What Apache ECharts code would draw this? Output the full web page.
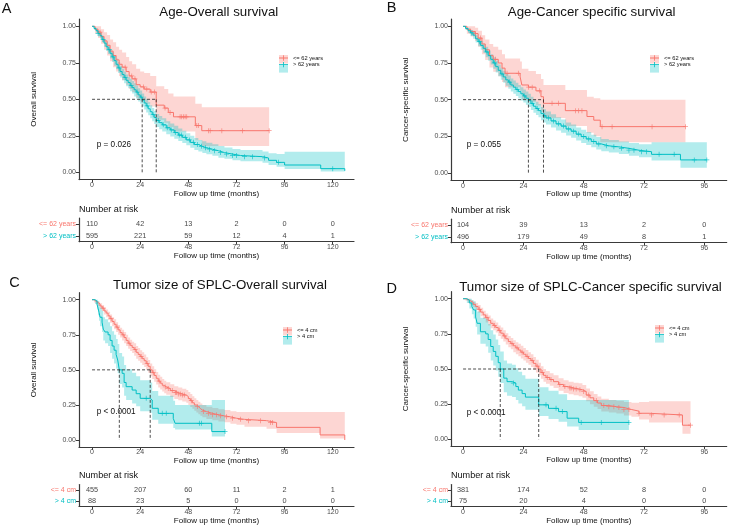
<!DOCTYPE html>
<html>
<head>
<meta charset="utf-8">
<title>SPLC survival curves</title>
<script src="https://cdn.jsdelivr.net/npm/echarts@6/dist/echarts.min.js"></script>
<style>
  html, body { margin: 0; padding: 0; background: #fff; }
  #chart { width: 729px; height: 528px; }
</style>
</head>
<body>
<div id="chart"></div>
<script>
// Kaplan-Meier estimates: [months, survival, lower CI, upper CI]
const ageOsYoung = [[0,1,1,1],[1.5,0.98,0.95,1],[3,0.96,0.92,1],[4.5,0.93,0.88,0.98],[6,0.9,0.84,0.96],[7.5,0.87,0.8,0.94],[9,0.83,0.76,0.91],[10.5,0.8,0.72,0.89],[12,0.77,0.69,0.86],[13.5,0.74,0.66,0.84],[15,0.72,0.63,0.82],[17,0.69,0.6,0.79],[18.5,0.66,0.57,0.76],[20,0.64,0.55,0.74],[22,0.6,0.51,0.71],[24,0.585,0.49,0.69],[26,0.57,0.47,0.68],[29,0.55,0.45,0.66],[32,0.46,0.36,0.59],[36,0.44,0.34,0.57],[38,0.41,0.31,0.54],[40.6,0.38,0.28,0.52],[51.5,0.32,0.22,0.47],[54.7,0.285,0.18,0.445],[88.3,0.285,0.18,0.445]];
const ageOsOld = [[0,1,1,1],[1,0.985,0.975,0.995],[2,0.97,0.955,0.985],[3,0.95,0.93,0.97],[4,0.935,0.915,0.955],[5,0.91,0.89,0.935],[6,0.885,0.86,0.91],[7,0.86,0.83,0.89],[8,0.84,0.81,0.87],[9,0.815,0.78,0.845],[10,0.79,0.755,0.825],[11,0.765,0.73,0.8],[12,0.74,0.705,0.78],[13,0.715,0.68,0.755],[14,0.69,0.65,0.73],[15,0.67,0.63,0.71],[16,0.65,0.61,0.69],[17,0.63,0.59,0.67],[18,0.615,0.575,0.655],[19,0.595,0.555,0.64],[20,0.58,0.54,0.625],[21,0.565,0.52,0.61],[22,0.55,0.505,0.595],[23,0.53,0.485,0.575],[24,0.515,0.47,0.56],[25,0.495,0.45,0.54],[26,0.475,0.43,0.52],[27,0.455,0.41,0.5],[28,0.435,0.39,0.48],[29,0.415,0.37,0.46],[30,0.395,0.35,0.44],[31,0.375,0.33,0.42],[32,0.355,0.31,0.4],[33.5,0.34,0.295,0.385],[35,0.325,0.28,0.37],[37,0.305,0.26,0.35],[39,0.29,0.245,0.335],[41,0.272,0.23,0.318],[43,0.255,0.215,0.3],[45,0.24,0.2,0.285],[47,0.222,0.185,0.268],[49,0.205,0.168,0.25],[51,0.19,0.153,0.235],[53,0.178,0.142,0.222],[55,0.168,0.133,0.212],[57,0.158,0.123,0.202],[60,0.148,0.113,0.192],[63,0.135,0.1,0.18],[66,0.125,0.092,0.17],[70,0.115,0.082,0.16],[74,0.107,0.075,0.152],[85,0.098,0.066,0.143],[88,0.082,0.05,0.13],[92,0.068,0.038,0.125],[96,0.05,0.022,0.14],[114,0.025,0.005,0.14],[126,0.01,0,0.14]];
const ageCssYoung = [[0,1,1,1],[1.5,0.98,0.95,1],[3,0.965,0.93,1],[4.8,0.95,0.9,0.99],[6,0.92,0.86,0.97],[7.5,0.88,0.81,0.94],[8.8,0.84,0.77,0.91],[10.5,0.8,0.72,0.88],[12,0.775,0.69,0.86],[14,0.75,0.66,0.84],[15.5,0.715,0.62,0.81],[16.7,0.68,0.585,0.78],[22.7,0.655,0.56,0.76],[23.4,0.6,0.5,0.71],[26,0.585,0.485,0.695],[29,0.56,0.46,0.675],[31,0.52,0.42,0.64],[32,0.475,0.375,0.6],[40.7,0.425,0.32,0.565],[49.3,0.385,0.275,0.52],[52,0.36,0.25,0.51],[54.6,0.316,0.21,0.5],[88.5,0.316,0.21,0.5]];
const ageCssOld = [[0,1,1,1],[1,0.985,0.975,0.995],[2,0.97,0.955,0.985],[3,0.955,0.935,0.975],[4,0.94,0.915,0.96],[5,0.915,0.89,0.94],[6,0.895,0.865,0.92],[7,0.87,0.84,0.9],[8,0.85,0.82,0.88],[9,0.825,0.79,0.86],[10,0.8,0.765,0.835],[11,0.775,0.74,0.81],[12,0.75,0.71,0.79],[13,0.725,0.685,0.765],[14,0.7,0.66,0.74],[15,0.675,0.635,0.715],[16,0.655,0.615,0.695],[17,0.635,0.595,0.68],[18,0.62,0.575,0.665],[19,0.6,0.555,0.645],[20,0.585,0.54,0.63],[21,0.57,0.525,0.615],[22,0.555,0.51,0.6],[23,0.54,0.495,0.585],[24,0.525,0.48,0.57],[25,0.51,0.465,0.555],[26,0.495,0.45,0.54],[27,0.475,0.43,0.52],[28,0.455,0.41,0.5],[29,0.44,0.395,0.485],[30,0.425,0.38,0.47],[31,0.405,0.36,0.45],[32,0.39,0.345,0.435],[33,0.375,0.33,0.42],[35,0.355,0.31,0.4],[37,0.335,0.29,0.38],[39,0.32,0.275,0.365],[41,0.3,0.255,0.345],[43,0.285,0.24,0.33],[45,0.265,0.222,0.31],[47,0.248,0.205,0.295],[49,0.232,0.19,0.28],[51,0.215,0.175,0.26],[53,0.198,0.16,0.245],[55,0.185,0.148,0.232],[58,0.178,0.14,0.225],[62,0.168,0.13,0.215],[66,0.155,0.118,0.205],[70,0.145,0.108,0.195],[75,0.127,0.085,0.21],[86.5,0.089,0.035,0.21],[97,0.089,0.035,0.21]];
const sizeOsSmall = [[0,1,1,1],[1,0.99,0.98,1],[2,0.98,0.965,0.99],[3,0.97,0.955,0.985],[4,0.955,0.935,0.975],[5,0.94,0.92,0.96],[6,0.92,0.895,0.945],[7,0.905,0.875,0.93],[8,0.885,0.855,0.915],[9,0.865,0.835,0.895],[10,0.845,0.81,0.875],[11,0.825,0.79,0.86],[12,0.805,0.77,0.84],[13,0.785,0.75,0.82],[14,0.765,0.73,0.8],[15,0.75,0.71,0.785],[16,0.73,0.69,0.77],[17,0.71,0.67,0.75],[18,0.69,0.65,0.73],[19,0.675,0.635,0.715],[20,0.66,0.62,0.7],[21,0.645,0.6,0.69],[22,0.625,0.58,0.67],[23,0.61,0.565,0.655],[24,0.595,0.55,0.64],[25,0.58,0.535,0.625],[26,0.565,0.52,0.61],[27,0.545,0.5,0.59],[28,0.525,0.48,0.57],[29,0.5,0.455,0.545],[30,0.48,0.435,0.525],[31,0.46,0.415,0.505],[32,0.44,0.395,0.485],[33,0.42,0.375,0.465],[34,0.405,0.36,0.45],[35,0.39,0.345,0.435],[36,0.378,0.333,0.423],[37,0.367,0.322,0.412],[39,0.352,0.307,0.397],[41,0.338,0.293,0.383],[43,0.328,0.283,0.374],[45,0.32,0.275,0.366],[47,0.31,0.265,0.356],[48,0.295,0.25,0.342],[49,0.28,0.236,0.327],[50,0.265,0.222,0.312],[51,0.25,0.208,0.297],[52,0.238,0.196,0.285],[53,0.225,0.184,0.272],[54,0.213,0.172,0.26],[55,0.203,0.162,0.25],[57,0.19,0.15,0.237],[60,0.18,0.14,0.228],[63,0.172,0.132,0.22],[66,0.165,0.126,0.213],[69,0.155,0.116,0.205],[72,0.147,0.108,0.2],[76,0.138,0.095,0.2],[87,0.124,0.08,0.2],[92,0.09,0.05,0.2],[113.7,0.036,0.01,0.2],[126,0,0,0.2]];
const sizeOsLarge = [[0,1,1,1],[1.5,0.99,0.97,1],[2.5,0.966,0.93,1],[3,0.94,0.89,0.99],[3.5,0.91,0.85,0.97],[4,0.875,0.81,0.945],[5,0.84,0.77,0.92],[5.6,0.79,0.71,0.875],[6.5,0.77,0.69,0.86],[8,0.75,0.67,0.84],[9,0.71,0.62,0.81],[10,0.67,0.58,0.775],[11,0.64,0.545,0.75],[12,0.61,0.51,0.72],[12.8,0.57,0.475,0.685],[13.6,0.5,0.4,0.62],[15,0.475,0.375,0.595],[16,0.41,0.315,0.535],[17,0.38,0.285,0.505],[20,0.356,0.26,0.48],[22,0.33,0.24,0.455],[24,0.297,0.205,0.425],[29,0.285,0.195,0.41],[30,0.226,0.145,0.35],[33,0.19,0.115,0.315],[40.5,0.154,0.085,0.28],[41.4,0.119,0.075,0.25],[59.7,0.06,0.024,0.285],[66.3,0.06,0.024,0.285]];
const sizeCssSmall = [[0,1,1,1],[1,0.995,0.985,1],[2,0.985,0.97,1],[3,0.975,0.955,0.99],[4,0.96,0.94,0.98],[5,0.945,0.92,0.97],[6,0.925,0.9,0.955],[7,0.905,0.875,0.935],[8,0.885,0.855,0.915],[9,0.865,0.83,0.895],[10,0.845,0.81,0.88],[11,0.825,0.79,0.86],[12,0.81,0.775,0.845],[13,0.795,0.76,0.83],[14,0.775,0.735,0.81],[15,0.755,0.715,0.795],[16,0.735,0.695,0.775],[17,0.715,0.675,0.755],[18,0.695,0.655,0.735],[19,0.68,0.64,0.72],[20,0.665,0.62,0.705],[21,0.65,0.605,0.69],[22,0.635,0.59,0.68],[23,0.62,0.575,0.665],[24,0.605,0.56,0.65],[25,0.59,0.545,0.635],[26,0.575,0.53,0.62],[27,0.56,0.515,0.605],[28,0.54,0.495,0.585],[29,0.52,0.475,0.565],[30.1,0.5,0.455,0.545],[31,0.475,0.43,0.52],[32,0.455,0.41,0.5],[33,0.44,0.395,0.485],[34.5,0.425,0.38,0.47],[36,0.41,0.365,0.455],[38,0.39,0.345,0.435],[40,0.375,0.33,0.42],[42,0.365,0.32,0.41],[44,0.358,0.313,0.403],[46,0.352,0.307,0.398],[47.5,0.34,0.295,0.386],[49,0.315,0.27,0.362],[50.5,0.295,0.25,0.342],[52,0.275,0.232,0.322],[53.5,0.258,0.215,0.305],[55,0.24,0.198,0.288],[58,0.232,0.19,0.28],[61,0.226,0.184,0.274],[64,0.212,0.17,0.265],[67,0.2,0.16,0.26],[70,0.185,0.14,0.265],[74,0.173,0.12,0.27],[87.3,0.1,0.04,0.27],[90.5,0.1,0.04,0.27]];
const sizeCssLarge = [[0,1,1,1],[1.5,0.99,0.97,1],[2.5,0.97,0.93,1],[3.5,0.945,0.89,0.99],[4.2,0.92,0.86,0.98],[5,0.87,0.8,0.95],[5.6,0.825,0.745,0.91],[6.9,0.765,0.68,0.865],[9,0.75,0.66,0.855],[10,0.71,0.615,0.82],[11,0.66,0.56,0.775],[12,0.625,0.525,0.745],[13,0.59,0.49,0.71],[14,0.545,0.445,0.67],[14.8,0.5,0.4,0.625],[16.2,0.435,0.335,0.56],[17.5,0.41,0.31,0.54],[19.5,0.4,0.3,0.53],[21,0.375,0.28,0.505],[22,0.35,0.255,0.48],[23.5,0.325,0.235,0.455],[24.8,0.3,0.21,0.43],[30.1,0.245,0.165,0.37],[34,0.22,0.145,0.345],[38,0.197,0.125,0.32],[41.4,0.15,0.09,0.28],[46,0.12,0.066,0.28],[66,0.12,0.066,0.28]];

// censoring times (months)
const ageOsYoungCensor = [4, 16.5, 19.8, 21.4, 25.6, 27.3, 29.5, 31.2, 36.4, 38.9, 43.9, 44.7, 45.6, 46.4, 47.2, 52.2, 53, 58, 58.9, 64.7, 75, 88.3];
const ageOsOldCensor = [3, 5.5, 8.5, 10.5, 13.5, 16.5, 19.5, 22.5, 24.5, 27.5, 30.5, 33, 35.5, 37.5, 39.5, 41.5, 43.5, 44.5, 46.5, 48.5, 50.5, 52.5, 54.5, 56.5, 58.5, 61, 64, 67, 70, 72, 76, 80, 86, 93, 120];
const ageCssYoungCensor = [4.9, 6.9, 12.9, 17.5, 22, 26.1, 27.5, 30.5, 35.4, 38, 44.7, 46, 47.3, 55.3, 59.3, 75.2, 88.5];
const ageCssOldCensor = [3.5, 6.5, 9.5, 12.5, 15.5, 18.5, 21.5, 24.5, 27.5, 29.5, 32.5, 34, 36, 38, 40, 42, 44, 46, 48, 50, 52, 54, 57, 60, 63, 66, 68, 71, 73, 78, 84, 92, 97];
const sizeOsSmallCensor = [5.5, 9.5, 12.5, 15.5, 18.5, 21.5, 24.5, 27.5, 30.5, 33.5, 36.5, 38, 40, 41.5, 42, 43, 44, 45, 46, 49.5, 52.5, 55.5, 58, 60, 62, 64, 67, 70, 74, 78, 84, 89, 90];
const sizeOsLargeCensor = [27, 35, 37, 53.5, 54.5, 66.3];
const sizeCssSmallCensor = [6.5, 9.5, 12.5, 14.5, 16.5, 19.5, 21.5, 23.5, 25.5, 27.5, 29.5, 31.5, 33.5, 35, 38.5, 40.5, 42.5, 43, 44, 45, 46.5, 48, 50, 53, 56, 58, 60, 62, 64, 66, 70, 75, 80, 86, 90.5];
const sizeCssLargeCensor = [20, 33, 37, 39.5, 47, 55, 66];

// number at risk
const ticksLong = [0, 24, 48, 72, 96, 120];
const ticksShort = [0, 24, 48, 72, 96];
const riskAgeOsYoung = [110, 42, 13, 2, 0, 0];
const riskAgeOsOld = [595, 221, 59, 12, 4, 1];
const riskAgeCssYoung = [104, 39, 13, 2, 0];
const riskAgeCssOld = [496, 179, 49, 8, 1];
const riskSizeOsSmall = [455, 207, 60, 11, 2, 1];
const riskSizeOsLarge = [88, 23, 5, 0, 0, 0];
const riskSizeCssSmall = [381, 174, 52, 8, 0];
const riskSizeCssLarge = [75, 20, 4, 0, 0];

const ageGroups = ['<= 62 years', '> 62 years'];
const sizeGroups = ['<= 4 cm', '> 4 cm'];
const survTicks = [0, 0.25, 0.5, 0.75, 1];

const COLORS = ['#F8766D', '#00BFC4'];
const FILLS = ['rgba(248,118,109,0.3)', 'rgba(0,191,196,0.3)'];
const FONT = '"Liberation Sans", Arial, Helvetica, sans-serif';
const AXIS = '#3a3a3a';
const CROSS = 'path://M-0.45,-3H0.45V3H-0.45Z M-3,-0.45H3V0.45H-3Z';
const KEY = 'path://M0,3.55H10V4.45H0Z M4.55,1H5.45V7H4.55Z';

const panels = [
  { letter: 'A', title: 'Age-Overall survival', ylab: 'Overall survival', pText: 'p = 0.026',
    groups: ageGroups, curves: [ageOsYoung, ageOsOld], censors: [ageOsYoungCensor, ageOsOldCensor],
    risk: [riskAgeOsYoung, riskAgeOsOld], ticks: ticksLong, xMin: -6.5, xMax: 130.6,
    plot: { left: 79, top: 19, width: 275, height: 160.6 },
    table: { left: 79, top: 218, width: 275, height: 23.7 },
    letterAt: [6.7, 8.5], titleAt: [218.8, 12], pAt: [96.7, 145], riskAt: [79, 209.5], legendAt: [279, 55] },
  { letter: 'B', title: 'Age-Cancer specific survival', ylab: 'Cancer-specific survival', pText: 'p = 0.055',
    groups: ageGroups, curves: [ageCssYoung, ageCssOld], censors: [ageCssYoungCensor, ageCssOldCensor],
    risk: [riskAgeCssYoung, riskAgeCssOld], ticks: ticksShort, xMin: -4.8, xMax: 104.9,
    plot: { left: 451, top: 19, width: 275.7, height: 161.3 },
    table: { left: 451, top: 219.2, width: 275.7, height: 23.5 },
    letterAt: [391.7, 8], titleAt: [591.7, 12], pAt: [466.7, 145], riskAt: [451, 210], legendAt: [650, 55] },
  { letter: 'C', title: 'Tumor size of SPLC-Overall survival', ylab: 'Overall survival', pText: 'p < 0.0001',
    groups: sizeGroups, curves: [sizeOsSmall, sizeOsLarge], censors: [sizeOsSmallCensor, sizeOsLargeCensor],
    risk: [riskSizeOsSmall, riskSizeOsLarge], ticks: ticksLong, xMin: -6.5, xMax: 130.6,
    plot: { left: 79, top: 292.7, width: 275, height: 154.3 },
    table: { left: 79, top: 484.5, width: 275, height: 22 },
    letterAt: [14.5, 282.7], titleAt: [220, 285.5], pAt: [96.7, 411.7], riskAt: [79, 475.5], legendAt: [283, 327] },
  { letter: 'D', title: 'Tumor size of SPLC-Cancer specific survival', ylab: 'Cancer-specific survival', pText: 'p < 0.0001',
    groups: sizeGroups, curves: [sizeCssSmall, sizeCssLarge], censors: [sizeCssSmallCensor, sizeCssLargeCensor],
    risk: [riskSizeCssSmall, riskSizeCssLarge], ticks: ticksShort, xMin: -4.8, xMax: 104.9,
    plot: { left: 451, top: 291.7, width: 275.7, height: 154.6 },
    table: { left: 451, top: 484.5, width: 275.7, height: 22 },
    letterAt: [391.7, 289], titleAt: [590.5, 287], pAt: [466.7, 412.3], riskAt: [451, 475.5], legendAt: [655, 325] }
];

// survival value of a step curve at time t
function survAt(curve, t) {
  let s = 1;
  curve.forEach((r) => { if (r[0] <= t) s = r[1]; });
  return s;
}
function medianOf(curve) {
  const row = curve.find((r) => r[1] <= 0.5);
  return row ? row[0] : null;
}

const grids = [];
const xAxes = [];
const yAxes = [];
const series = [];
const legends = [];
const graphics = [];

panels.forEach((p, i) => {
  const gPlot = 2 * i;
  const gTable = 2 * i + 1;
  grids.push(Object.assign({ outerBoundsMode: 'none' }, p.plot));
  grids.push(Object.assign({ outerBoundsMode: 'none' }, p.table));

  const xBase = {
    type: 'value', min: p.xMin, max: p.xMax,
    axisLine: { show: true, onZero: false, lineStyle: { color: AXIS, width: 1.2 } },
    axisTick: { show: true, length: 3, customValues: p.ticks, lineStyle: { color: AXIS } },
    axisLabel: { customValues: p.ticks, fontSize: 7, color: '#4d4d4d', margin: 2, fontFamily: FONT },
    splitLine: { show: false },
    name: 'Follow up time (months)', nameLocation: 'middle',
    nameTextStyle: { fontSize: 8, color: '#111', fontFamily: FONT }
  };
  xAxes.push(Object.assign({}, xBase, { gridIndex: gPlot, nameGap: 8.5 }));
  xAxes.push(Object.assign({}, xBase, { gridIndex: gTable, nameGap: 10.5 }));

  yAxes.push({
    type: 'value', gridIndex: gPlot, min: -0.05, max: 1.05,
    axisLine: { show: true, onZero: false, lineStyle: { color: AXIS, width: 1.2 } },
    axisTick: { show: true, length: 3, customValues: survTicks, lineStyle: { color: AXIS } },
    axisLabel: { customValues: survTicks, formatter: (v) => v.toFixed(2), fontSize: 7, color: '#4d4d4d', margin: 3, fontFamily: FONT },
    splitLine: { show: false },
    name: p.ylab, nameLocation: 'middle', nameGap: 41,
    nameTextStyle: { fontSize: 8, color: '#111', fontFamily: FONT }
  });
  yAxes.push({
    type: 'category', gridIndex: gTable, data: p.groups, inverse: true,
    axisLine: { show: true, onZero: false, lineStyle: { color: AXIS, width: 1.2 } },
    axisTick: { show: true, length: 3, alignWithLabel: true, lineStyle: { color: AXIS } },
    axisLabel: { fontSize: 7, margin: 3, fontFamily: FONT, color: (v, idx) => COLORS[idx] },
    splitLine: { show: false }
  });

  const axisRef = { xAxisIndex: gPlot, yAxisIndex: gPlot };

  // confidence bands drawn as one step polygon per group
  p.curves.forEach((curve, k) => {
    series.push(Object.assign({
      type: 'custom', name: p.groups[k], silent: true, clip: true, z: 1,
      encode: { x: 0, y: [2, 3] },
      data: curve,
      renderItem: (params, api) => {
        if (params.dataIndex !== 0) return null;
        const upper = [];
        const lower = [];
        curve.forEach((r, j) => {
          const tEnd = j < curve.length - 1 ? curve[j + 1][0] : r[0];
          upper.push(api.coord([r[0], r[3]]), api.coord([tEnd, r[3]]));
          lower.push(api.coord([r[0], r[2]]), api.coord([tEnd, r[2]]));
        });
        return {
          type: 'polygon',
          shape: { points: upper.concat(lower.reverse()) },
          style: { fill: FILLS[k], stroke: null }
        };
      }
    }, axisRef));
  });

  // survival curves and censor marks
  p.curves.forEach((curve, k) => {
    series.push(Object.assign({
      type: 'line', name: p.groups[k], step: 'end', symbol: 'none', silent: true,
      lineStyle: { color: COLORS[k], width: 1 }, z: 3,
      data: curve.map((r) => [r[0], r[1]])
    }, axisRef));
    series.push(Object.assign({
      type: 'scatter', name: p.groups[k], symbol: CROSS, symbolSize: 5, silent: true,
      itemStyle: { color: COLORS[k] }, z: 4,
      data: p.censors[k].map((t) => [t, survAt(curve, t)])
    }, axisRef));
  });

  // median survival guides
  const meds = p.curves.map(medianOf);
  const dash = { color: '#222', type: [3, 2], width: 0.8 };
  series.push(Object.assign({
    type: 'line', symbol: 'none', silent: true, lineStyle: dash, z: 5,
    data: [[0, 0.5], [Math.max(...meds), 0.5]]
  }, axisRef));
  meds.forEach((m) => {
    series.push(Object.assign({
      type: 'line', symbol: 'none', silent: true, lineStyle: dash, z: 5,
      data: [[m, 0.5], [m, 0]]
    }, axisRef));
  });

  // number at risk table
  p.risk.forEach((counts, k) => {
    series.push({
      type: 'scatter', xAxisIndex: gTable, yAxisIndex: gTable, symbolSize: 1, silent: true,
      itemStyle: { color: 'transparent' },
      label: { show: true, position: 'inside', formatter: (d) => String(d.value[2]), fontSize: 7.3, color: '#111', fontFamily: FONT },
      data: p.ticks.map((t, j) => [t, k, counts[j]])
    });
  });

  // legend: filled key underneath, line + cross key on top
  const legendBase = {
    orient: 'vertical', left: p.legendAt[0], top: p.legendAt[1], padding: 0,
    itemWidth: 9, itemHeight: 8.5, itemGap: 0.6, selectedMode: false
  };
  legends.push(Object.assign({}, legendBase, {
    data: p.groups.map((g, k) => ({ name: g, icon: 'rect', itemStyle: { color: FILLS[k], borderWidth: 0 } })),
    textStyle: { fontSize: 5.7, color: 'rgba(0,0,0,0)', fontFamily: FONT }
  }));
  legends.push(Object.assign({}, legendBase, {
    data: p.groups.map((g, k) => ({ name: g, icon: KEY, itemStyle: { color: COLORS[k], borderWidth: 0 } })),
    textStyle: { fontSize: 5.7, color: '#111', fontFamily: FONT }
  }));

  const txt = (x, y, text, size, align) => ({
    type: 'text', x: x, y: y, silent: true,
    style: { text: text, fontSize: size, fontFamily: FONT, fill: '#111', align: align, verticalAlign: 'middle', textAlign: align, textVerticalAlign: 'middle' }
  });
  graphics.push(txt(p.letterAt[0], p.letterAt[1], p.letter, 14.5, 'center'));
  graphics.push(txt(p.titleAt[0], p.titleAt[1], p.title, 13.3, 'center'));
  graphics.push(txt(p.pAt[0], p.pAt[1], p.pText, 8.2, 'left'));
  graphics.push(txt(p.riskAt[0], p.riskAt[1], 'Number at risk', 9.1, 'left'));
});

const chart = echarts.init(document.getElementById('chart'), null, { renderer: 'canvas' });
chart.setOption({
  animation: false,
  backgroundColor: '#fff',
  textStyle: { fontFamily: FONT },
  grid: grids,
  xAxis: xAxes,
  yAxis: yAxes,
  legend: legends,
  series: series,
  graphic: graphics
});
</script>
</body>
</html>
